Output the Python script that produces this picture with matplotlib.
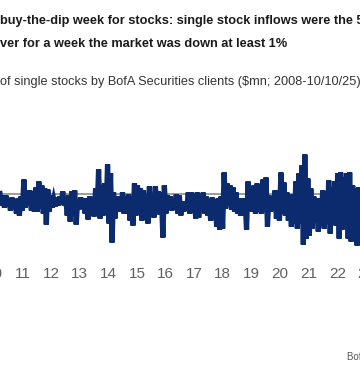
import numpy as np
import pandas as pd
import matplotlib
matplotlib.use('Agg')
import matplotlib.pyplot as plt
from matplotlib import font_manager

# weekly net buying of single stocks ($mn), read off the chart as
# alternating highs / lows of the visible stretch (Sep 2010 - May 2023)
highs = [0, -200, -200, -500, -400, -600, -500, -300, 1400, 200, 300, -200, 600, 1200,
         800, 500, 400, -200, -600, -400, -300, 200, -400, -200, 200, 300, -600, -400,
         -500, -500, -300, -400, 500, 2400, 800, 1000, 2900, 2000, 100, -300, -300, 100,
         -300, -100, -300, 1000, 800, 500, 300, -100, 700, -100, 700, 200, 100, 800,
         -200, -300, -500, -100, -200, -800, -800, 100, 100, -200, 100, -500, 100, -300,
         -800, -400, -800, -500, -300, 2100, 1000, 800, 600, 100, -500, -500, -500, 1200,
         200, 800, 1000, 300, 1400, 1600, -200, -300, 300, 300, 2100, 1100, 100, -300,
         -100, 1200, 2000, 2800, 3900, 1500, 500, -300, -500, -500, 300, -300, 1300, 600,
         1200, 2000, 2100, 1600, 2000, 2100, 800, 500, 600, 600]
lows = [-1200, -1400, -1300, -1700, -1500, -2000, -2200, -1700, -1400, -1200, -1700,
        -1800, -1800, -1500, -2000, -3100, -1800, -1400, -1300, -1200, -1100, -1200,
        -2200, -2800, -2000, -3100, -1600, -1400, -2000, -2600, -1800, -2300, -1700,
        -2500, -2200, -2000, -3000, -4900, -2500, -1800, -1800, -2000, -2000, -2700,
        -3200, -2200, -1800, -2700, -1500, -3000, -2000, -2400, -2000, -2100, -4400,
        -2000, -1600, -1700, -1500, -2000, -2200, -1800, -1600, -2000, -1800, -2500,
        -2400, -1800, -2000, -2200, -2700, -2400, -3300, -3600, -3500, -1500, -1200,
        -1600, -1800, -2000, -2200, -1800, -3600, -1400, -1800, -2000, -1800, -2000,
        -1800, -3300, -1800, -1700, -2500, -2700, -2000, -2200, -2700, -3300, -3000,
        -3500, -3000, -5100, -4500, -4200, -3500, -2800, -3800, -2200, -3500, -3000,
        -4000, -2800, -3200, -4500, -3600, -3000, -4500, -4800, -4000, -5200, -4500,
        -4500]

flows = []
for h, l in zip(highs, lows):
    flows += [h, l]

dates = pd.date_range('2010-09-15', '2023-05-27', periods=len(flows))
years = list(range(2008, 2026))
year_labels = [str(y)[2:] for y in years]

title1 = 'buy-the-dip week for stocks: single stock inflows were the 5th'
title2 = 'ver for a week the market was down at least 1%'
subtitle = 'of single stocks by BofA Securities clients ($mn; 2008-10/10/25)'
source = 'BofA Global Research'

names = {f.name for f in font_manager.fontManager.ttflist}
tick_font = 'Liberation Sans Narrow' if 'Liberation Sans Narrow' in names else 'Liberation Sans'

W, H = 360, 380
fig = plt.figure(figsize=(3.6, 3.8), dpi=100)

# axes runs past both edges of the picture, as in the cropped original
x0, x1 = -77.4, 431.0
y_top, y_bot = 150, 260
ax = fig.add_axes([x0 / W, 1 - y_bot / H, (x1 - x0) / W, (y_bot - y_top) / H])

ax.axhline(0, color='#8c8c8c', lw=1.2, zorder=1)
ax.plot(dates, flows, color='#0c2a6e', lw=3.8, solid_joinstyle='miter', zorder=2)

ax.set_xlim(pd.Timestamp('2008-01-01'), pd.Timestamp('2025-10-10'))
ax.set_ylim(-6650, 4350)
ax.set_xticks([pd.Timestamp(f'{y}-07-01') for y in years])
ax.set_xticklabels(year_labels, fontsize=11, color='#606060', family=tick_font)
ax.tick_params(axis='x', length=0, pad=5)
ax.set_yticks([])
for s in ax.spines.values():
    s.set_visible(False)

fig.text(0, 1 - 21 / H, title1, fontsize=9.2, fontweight='bold', color='#1a1a1a',
         family='Liberation Sans', va='center', ha='left')
fig.text(0, 1 - 44 / H, title2, fontsize=9.2, fontweight='bold', color='#1a1a1a',
         family='Liberation Sans', va='center', ha='left')
fig.text(0, 1 - 82 / H, subtitle, fontsize=9.2, color='#333333',
         family='Liberation Sans', va='center', ha='left')
fig.text(347 / W, 1 - 357 / H, source, fontsize=7, color='#555555',
         family='Liberation Sans', va='center', ha='left')

fig.savefig('out.png', dpi=100)
